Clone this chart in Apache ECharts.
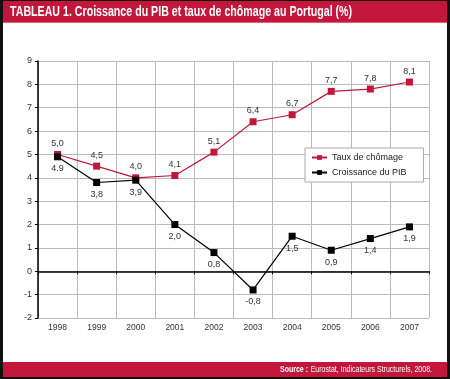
<!DOCTYPE html>
<html><head><meta charset="utf-8">
<script src="https://cdn.jsdelivr.net/npm/echarts@6/dist/echarts.min.js"></script>
<style>html,body{margin:0;padding:0;background:#fff}#c{width:450px;height:379px}</style>
</head><body><div id="c"></div>
<script>
var years = ['1998','1999','2000','2001','2002','2003','2004','2005','2006','2007'];
var chomage = [5.0, 4.5, 4.0, 4.1, 5.1, 6.4, 6.7, 7.7, 7.8, 8.1];
var chomageLabels = ['5,0','4,5','4,0','4,1','5,1','6,4','6,7','7,7','7,8','8,1'];
var pib = [4.9, 3.8, 3.9, 2.0, 0.8, -0.8, 1.5, 0.9, 1.4, 1.9];
var pibLabels = ['4.9','3,8','3,9','2,0','0,8','-0,8','1,5','0,9','1,4','1,9'];
var yTicks = ['-2','-1','0','1','2','3','4','5','6','7','8','9'];

var RED = '#c2173b';
var FONT = '"Liberation Sans", Arial, sans-serif';
var chart = echarts.init(document.getElementById('c'), null, {renderer:'canvas'});
chart.setOption({
  backgroundColor: '#fff',
  animation: false,
  textStyle: {fontFamily: FONT},
  graphic: [
    {type:'rect', shape:{x:0,y:0,width:450,height:379}, style:{fill:'#111'}, z:-10},
    {type:'rect', shape:{x:3,y:1,width:444,height:376}, style:{fill:'#fff'}, z:-9},
    {type:'rect', shape:{x:3,y:1,width:444,height:21}, style:{fill:RED}, z:-8},
    {type:'rect', shape:{x:3,y:22,width:444,height:1}, style:{fill:'#e2607a'}, z:-8},
    {type:'rect', shape:{x:3,y:362,width:444,height:15}, style:{fill:RED}, z:-8},
    {type:'text', x:10, y:12, scaleX:0.76, z:10, style:{
      text:'TABLEAU 1. Croissance du PIB et taux de chômage au Portugal (%)',
      fill:'#fff', font:'bold 14px ' + FONT, align:'left', verticalAlign:'middle'}},
    {type:'text', x:432, y:370, scaleX:0.78, z:10, style:{
      rich:{b:{fontWeight:'bold', fill:'#fff', fontSize:9, fontFamily:FONT}, n:{fill:'#fff', fontSize:9, fontFamily:FONT}},
      text:'{b|Source :} {n|Eurostat, Indicateurs Structurels, 2008.}',
      align:'right', verticalAlign:'middle'
    }}
  ],
  legend: {
    orient: 'vertical', left: 305, top: 148,
    data: ['Taux de chômage','Croissance du PIB'],
    borderColor: '#aaa', borderWidth: 1, backgroundColor:'#fff',
    padding: [5, 17, 5, 6], itemGap: 6, itemWidth: 15, itemHeight: 6,
    textStyle: {fontSize: 9, color:'#222', fontFamily: FONT}
  },
  grid: {left: 38, right: 21, top: 61, bottom: 61, containLabel: false},
  xAxis: {
    type: 'category', data: years, boundaryGap: true,
    axisLine: {onZero: true, lineStyle: {color:'#000', width: 1.5}},
    axisTick: {show: true, length: 3, lineStyle:{color:'#000'}},
    axisLabel: {color:'#333', fontSize: 8.5, margin: 5, fontFamily: FONT},
    splitLine: {show: true, interval: 0, lineStyle: {color:'#bbb', width: 1}}
  },
  yAxis: {
    type: 'value', min: -2, max: 9, interval: 1,
    axisLine: {show: true, lineStyle: {color:'#000', width: 1.5}},
    axisTick: {show: true, length: 3, lineStyle:{color:'#000'}},
    axisLabel: {color:'#333', fontSize: 9, margin: 6, fontFamily: FONT,
      formatter: function(v){ return yTicks[Math.round(v)+2]; }},
    splitLine: {show: true, lineStyle: {color:'#bbb', width: 1}}
  },
  series: [
    {name:'Taux de chômage', type:'line', data: chomage, color: RED,
     symbol:'rect', symbolSize: 7, lineStyle:{width:1.2, color: RED},
     itemStyle:{color: RED},
     label:{show:true, position:'top', distance:3, fontSize:9, color:'#333', fontFamily:FONT,
       formatter: function(p){ return chomageLabels[p.dataIndex]; }}},
    {name:'Croissance du PIB', type:'line', data: pib, color:'#000',
     symbol:'rect', symbolSize: 7, lineStyle:{width:1.2, color:'#000'},
     itemStyle:{color:'#000'},
     label:{show:true, position:'bottom', distance:4, fontSize:9, color:'#333', fontFamily:FONT,
       formatter: function(p){ return pibLabels[p.dataIndex]; }}}
  ]
});
</script></body></html>
